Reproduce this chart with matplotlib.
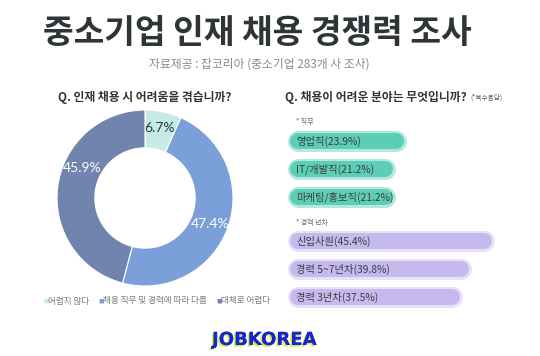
import matplotlib
matplotlib.use('Agg')
import matplotlib.pyplot as plt
import matplotlib.patheffects as pe

plt.rcParams['font.family'] = ['Noto Sans CJK KR', 'DejaVu Sans']

W, H = 540, 356

title = '중소기업 인재 채용 경쟁력 조사'
subtitle = '자료제공 : 잡코리아 (중소기업 283개 사 조사)'

# donut data
pie_question = 'Q. 인재 채용 시 어려움을 겪습니까?'
pie_labels = ['어렵지 않다', '채용 직무 및 경력에 따라 다름', '대체로 어렵다']
pie_values = [6.7, 47.4, 45.9]
pie_colors = ['#c6ebe5', '#7b9fd9', '#7084ae']
pie_text_colors = ['#2b3a3a', 'white', 'white']

# bar data
bar_question = 'Q. 채용이 어려운 분야는 무엇입니까?'
job_labels = ['영업직', 'IT/개발직', '마케팅/홍보직']
job_values = [23.9, 21.2, 21.2]
career_labels = ['신입사원', '경력 5~7년차', '경력 3년차']
career_values = [45.4, 39.8, 37.5]


def fx(px):
    return px / W


def fy(py):
    return 1 - py / H


fig = plt.figure(figsize=(5.4, 3.56), dpi=100)
fig.patch.set_facecolor('white')

fig.text(fx(257), fy(33), title, ha='center', va='center', fontsize=24,
         fontweight='black', color='#2f3437')
fig.text(fx(259), fy(64), subtitle, ha='center', va='center', fontsize=8.5,
         color='#8a8a8a')

# ---- donut ----
fig.text(fx(145), fy(97), pie_question, ha='center', va='center',
         fontsize=8.5, fontweight='bold', color='#333333')

cx, cy, r = 145, 198, 88
ax = fig.add_axes([fx(cx - r), fy(cy + r), 2 * r / W, 2 * r / H])
wedges, texts, autotexts = ax.pie(
    pie_values, colors=pie_colors, startangle=90, counterclock=False,
    radius=1.0, autopct='%.1f%%', pctdistance=0.79,
    wedgeprops=dict(width=0.43, edgecolor='white', linewidth=0.8),
    textprops=dict(fontsize=10, family=['Lato', 'DejaVu Sans']))
for t, c in zip(autotexts, pie_text_colors):
    t.set_color(c)
# nudge the labels toward where the reference puts them
autotexts[0].set_position((0.17, 0.80))
autotexts[1].set_position((0.74, -0.30))
autotexts[2].set_position((-0.72, 0.34))
ax.set_xlim(-1, 1)
ax.set_ylim(-1, 1)
ax.set_aspect('equal')
ax.axis('off')

# legend
lx = 43
for lab, col in zip(pie_labels, pie_colors):
    fig.text(fx(lx), fy(301), '■', ha='left', va='center', fontsize=4,
             color=col)
    t = fig.text(fx(lx + 5), fy(301), lab, ha='left', va='center',
                 fontsize=6.2, color='#7a7a7a')
    fig.canvas.draw()
    bb = t.get_window_extent()
    lx = bb.x1 + 9

# ---- bars ----
fig.text(fx(285), fy(97), bar_question, ha='left', va='center',
         fontsize=8.5, fontweight='bold', color='#333333')
fig.text(fx(470), fy(98), '(*복수응답)', ha='left', va='center',
         fontsize=4.8, color='#555555')

x0 = 298
scale = 4.1  # px per percent
bx = fig.add_axes([fx(x0), 0, 1 - fx(x0), 1])
bx.set_xlim(0, (W - x0) / scale)
bx.set_ylim(H, 0)
bx.axis('off')

job_y = [141, 169, 197]
career_y = [241, 269, 297]

fig.text(fx(296), fy(122), '* 직무', ha='left', va='center', fontsize=5,
         color='#666666')
fig.text(fx(296), fy(223), '* 경력 년차', ha='left', va='center',
         fontsize=5, color='#666666')

pt = 72 / 100  # px -> points


def draw_group(labels, values, ys, fill, glow):
    for lab, v, y in zip(labels, values, ys):
        bx.plot([0, v], [y, y], color=glow, lw=21 * pt,
                solid_capstyle='round', clip_on=False)
        bx.plot([0, v], [y, y], color=fill, lw=16 * pt,
                solid_capstyle='round', clip_on=False)
        bx.text(-0.4, y, f'{lab}({v}%)', ha='left', va='center',
                fontsize=7.4, color='#3d3d3d')


draw_group(job_labels, job_values, job_y, '#5ccdb6', '#b3e9dd')
draw_group(career_labels, career_values, career_y, '#c5b9ee', '#e6e0f9')

# ---- logo ----
logo = fig.text(fx(264), fy(340), 'JOBKOREA', ha='center', va='center',
                fontsize=13, fontweight='bold', color='#1b22d4',
                family=['Liberation Sans Narrow', 'DejaVu Sans'])
logo.set_path_effects([
    pe.withSimplePatchShadow(offset=(-1.2, -1.2), shadow_rgbFace='#c9f23d',
                             alpha=1.0),
    pe.Normal()])

fig.savefig('out.png', dpi=100, facecolor='white')
